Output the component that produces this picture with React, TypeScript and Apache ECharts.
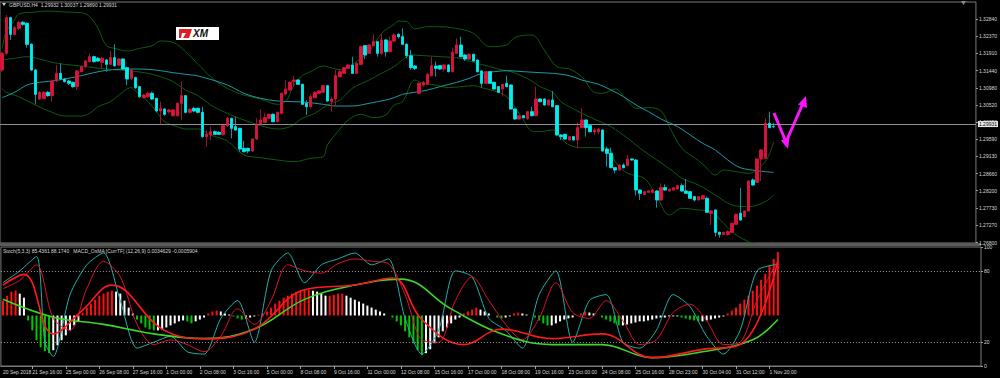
import React, { useEffect, useRef } from "react";
import * as echarts from "echarts";

const TITLE = "GBPUSD,H4  1.29932 1.30037 1.29890 1.29931";
const SUB_TITLE = "Stoch(5,3,3) 85.4361 88.1740   MACD_OsMA [CurrTF] (12,26,9) 0.0034629 -0.0005904";
const CURRENT_PRICE = 1.29931;
const SLOTS = 234;

// [open, close, low, high]
const candles: number[][] = [
  [1.3146, 1.3191, 1.31415, 1.31955],
  [1.3191, 1.32873, 1.31865, 1.32945],
  [1.32873, 1.32423, 1.3227, 1.329],
  [1.32423, 1.32603, 1.32387, 1.32657],
  [1.32585, 1.32747, 1.3254, 1.32783],
  [1.32747, 1.32693, 1.32657, 1.32783],
  [1.3272, 1.32153, 1.32063, 1.32747],
  [1.32153, 1.3146, 1.31433, 1.3218],
  [1.3146, 1.30803, 1.30533, 1.31487],
  [1.30677, 1.30857, 1.3065, 1.30893],
  [1.30695, 1.30857, 1.30659, 1.30893],
  [1.30857, 1.30767, 1.3074, 1.30893],
  [1.30767, 1.31163, 1.30605, 1.3119],
  [1.31163, 1.3137, 1.31145, 1.31595],
  [1.3137, 1.31217, 1.3119, 1.3164],
  [1.31217, 1.31145, 1.31127, 1.31235],
  [1.31163, 1.311, 1.31055, 1.3119],
  [1.31127, 1.3101, 1.30983, 1.31145],
  [1.3101, 1.31433, 1.3092, 1.3146],
  [1.31415, 1.3155, 1.31397, 1.31577],
  [1.3155, 1.31703, 1.31523, 1.3173],
  [1.31685, 1.3182, 1.31667, 1.3191],
  [1.3182, 1.31685, 1.31667, 1.31847],
  [1.31775, 1.31703, 1.31685, 1.31811],
  [1.31667, 1.31775, 1.31505, 1.3182],
  [1.3173, 1.31613, 1.31415, 1.31757],
  [1.31613, 1.31793, 1.31595, 1.31973],
  [1.31793, 1.31577, 1.3155, 1.32153],
  [1.31595, 1.31757, 1.31568, 1.31775],
  [1.31757, 1.31487, 1.3146, 1.31775],
  [1.31523, 1.31217, 1.31055, 1.3155],
  [1.31235, 1.3146, 1.3119, 1.31505],
  [1.31253, 1.30983, 1.30947, 1.3128],
  [1.3101, 1.3074, 1.30713, 1.31028],
  [1.30713, 1.30785, 1.30695, 1.30821],
  [1.3074, 1.3083, 1.30713, 1.30857],
  [1.3083, 1.30677, 1.3065, 1.30875],
  [1.30695, 1.30353, 1.30317, 1.30713],
  [1.30353, 1.30425, 1.30005, 1.30605],
  [1.30407, 1.30263, 1.30227, 1.30425],
  [1.30335, 1.3038, 1.3029, 1.30407],
  [1.30227, 1.3038, 1.302, 1.30407],
  [1.30227, 1.3056, 1.302, 1.30587],
  [1.3056, 1.30767, 1.3011, 1.31145],
  [1.30767, 1.30317, 1.3029, 1.30785],
  [1.30317, 1.30398, 1.3029, 1.30425],
  [1.30425, 1.30353, 1.30317, 1.3047],
  [1.30425, 1.30317, 1.3029, 1.30443],
  [1.30317, 1.2966, 1.29633, 1.3047],
  [1.2966, 1.29723, 1.2939, 1.2984],
  [1.29705, 1.29795, 1.2957, 1.2993],
  [1.29795, 1.29723, 1.29705, 1.29831],
  [1.29777, 1.29723, 1.29705, 1.29813],
  [1.29723, 1.29957, 1.29687, 1.29993],
  [1.29957, 1.30155, 1.2993, 1.30191],
  [1.30155, 1.29885, 1.29615, 1.30173],
  [1.2993, 1.2984, 1.29813, 1.302],
  [1.29885, 1.29327, 1.29255, 1.29903],
  [1.29345, 1.29255, 1.29237, 1.29543],
  [1.29345, 1.29273, 1.2921, 1.29363],
  [1.29273, 1.29597, 1.29255, 1.29615],
  [1.29597, 1.29993, 1.2957, 1.30155],
  [1.29993, 1.3011, 1.29975, 1.30407],
  [1.30047, 1.30173, 1.3002, 1.3029],
  [1.30155, 1.30263, 1.30137, 1.3029],
  [1.30263, 1.30065, 1.30047, 1.3029],
  [1.30065, 1.30317, 1.30047, 1.30335],
  [1.3029, 1.3083, 1.30263, 1.30857],
  [1.30812, 1.30947, 1.30785, 1.3119],
  [1.3092, 1.31127, 1.30893, 1.31163],
  [1.31145, 1.3119, 1.3101, 1.31307],
  [1.3119, 1.31073, 1.31055, 1.31217],
  [1.31073, 1.30533, 1.30515, 1.31091],
  [1.3056, 1.3047, 1.30245, 1.3065],
  [1.3047, 1.3074, 1.30425, 1.30803],
  [1.30713, 1.30857, 1.30695, 1.30893],
  [1.3083, 1.30893, 1.30803, 1.3092],
  [1.30857, 1.31037, 1.30839, 1.31055],
  [1.31037, 1.30623, 1.30605, 1.31055],
  [1.30605, 1.30677, 1.30335, 1.3074],
  [1.30677, 1.31307, 1.3047, 1.3146],
  [1.3128, 1.31415, 1.31253, 1.3146],
  [1.3137, 1.31523, 1.31352, 1.3155],
  [1.31505, 1.31595, 1.31487, 1.31613],
  [1.31595, 1.3137, 1.31352, 1.3182],
  [1.3137, 1.3164, 1.31352, 1.31667],
  [1.31613, 1.3209, 1.31595, 1.32117],
  [1.32117, 1.31865, 1.31757, 1.32135],
  [1.3191, 1.32135, 1.31892, 1.32153],
  [1.32117, 1.32225, 1.32099, 1.32423],
  [1.32225, 1.3191, 1.3182, 1.32243],
  [1.3191, 1.3227, 1.31865, 1.3245],
  [1.3227, 1.31955, 1.3182, 1.32297],
  [1.31955, 1.32243, 1.31937, 1.3236],
  [1.32243, 1.32405, 1.32207, 1.3245],
  [1.32423, 1.3236, 1.32315, 1.3245],
  [1.3236, 1.32153, 1.32135, 1.32585],
  [1.32153, 1.31847, 1.31775, 1.3218],
  [1.31847, 1.31523, 1.3146, 1.32],
  [1.31568, 1.31505, 1.3146, 1.31595],
  [1.3083, 1.311, 1.30803, 1.31127],
  [1.31055, 1.31127, 1.3101, 1.31163],
  [1.31073, 1.31343, 1.31055, 1.3137],
  [1.31307, 1.31577, 1.31289, 1.3182],
  [1.31568, 1.31505, 1.3128, 1.31685],
  [1.31577, 1.31487, 1.3146, 1.31595],
  [1.31487, 1.31595, 1.31415, 1.31613],
  [1.31595, 1.31415, 1.31397, 1.31613],
  [1.31415, 1.31937, 1.31397, 1.32063],
  [1.3191, 1.32135, 1.31892, 1.32315],
  [1.32135, 1.3182, 1.31802, 1.3236],
  [1.31865, 1.31757, 1.31703, 1.31883],
  [1.31757, 1.31883, 1.31739, 1.3191],
  [1.31883, 1.31703, 1.31685, 1.31901],
  [1.3173, 1.31415, 1.31397, 1.31748],
  [1.31433, 1.311, 1.30983, 1.31451],
  [1.311, 1.31415, 1.31082, 1.31433],
  [1.31415, 1.311, 1.31082, 1.31433],
  [1.31127, 1.30947, 1.30929, 1.31145],
  [1.3101, 1.30857, 1.30839, 1.31028],
  [1.30947, 1.31073, 1.3074, 1.31091],
  [1.311, 1.3101, 1.30992, 1.31307],
  [1.31055, 1.30407, 1.30389, 1.31073],
  [1.30407, 1.30137, 1.30119, 1.30425],
  [1.30137, 1.30227, 1.30119, 1.30245],
  [1.30227, 1.30173, 1.30155, 1.30245],
  [1.30155, 1.30335, 1.3011, 1.30353],
  [1.30335, 1.30227, 1.30209, 1.3047],
  [1.30227, 1.30677, 1.30209, 1.3101],
  [1.30677, 1.30605, 1.30587, 1.30695],
  [1.30677, 1.30515, 1.30497, 1.30695],
  [1.30515, 1.3065, 1.30497, 1.30668],
  [1.3065, 1.3047, 1.30452, 1.30893],
  [1.30497, 1.29705, 1.29687, 1.30515],
  [1.29705, 1.2966, 1.2957, 1.29723],
  [1.29723, 1.29597, 1.29579, 1.29741],
  [1.2957, 1.2966, 1.29552, 1.29678],
  [1.2966, 1.2957, 1.29552, 1.29678],
  [1.2957, 1.29903, 1.29345, 1.30047],
  [1.29903, 1.3011, 1.29885, 1.30425],
  [1.3011, 1.29903, 1.2966, 1.30128],
  [1.29957, 1.29795, 1.29777, 1.29975],
  [1.29795, 1.2984, 1.29705, 1.29903],
  [1.29795, 1.29867, 1.29723, 1.29885],
  [1.2984, 1.29273, 1.29255, 1.29858],
  [1.29327, 1.2921, 1.2885, 1.2939],
  [1.2921, 1.28823, 1.28805, 1.29363],
  [1.28823, 1.2876, 1.2867, 1.28841],
  [1.2876, 1.28895, 1.28742, 1.28913],
  [1.28895, 1.28823, 1.28805, 1.2894],
  [1.28877, 1.29057, 1.28859, 1.29165],
  [1.29057, 1.2903, 1.29012, 1.29075],
  [1.2903, 1.2822, 1.28067, 1.29048],
  [1.2822, 1.2813, 1.2795, 1.28238],
  [1.28103, 1.28175, 1.28085, 1.28193],
  [1.28157, 1.28193, 1.2813, 1.2822],
  [1.28157, 1.2822, 1.2813, 1.28247],
  [1.28193, 1.2795, 1.27743, 1.2822],
  [1.2795, 1.28283, 1.27932, 1.284],
  [1.28283, 1.2822, 1.28202, 1.28373],
  [1.28193, 1.28238, 1.28175, 1.28265],
  [1.2822, 1.28283, 1.28202, 1.28301],
  [1.28247, 1.28337, 1.28229, 1.28355],
  [1.28337, 1.28193, 1.28175, 1.284],
  [1.28193, 1.2813, 1.28112, 1.28517],
  [1.28175, 1.27995, 1.27977, 1.28193],
  [1.2804, 1.2795, 1.27905, 1.28058],
  [1.2795, 1.2804, 1.27932, 1.28058],
  [1.27977, 1.28067, 1.27959, 1.28085],
  [1.27995, 1.27617, 1.27599, 1.2804],
  [1.2759, 1.27653, 1.27275, 1.2768],
  [1.2768, 1.27077, 1.2696, 1.27698],
  [1.27077, 1.27023, 1.26933, 1.27095],
  [1.27023, 1.27077, 1.27005, 1.27095],
  [1.27023, 1.27095, 1.26987, 1.27131],
  [1.27077, 1.2732, 1.27059, 1.27338],
  [1.27293, 1.27563, 1.27275, 1.27581],
  [1.2759, 1.2741, 1.27392, 1.28283],
  [1.275, 1.27653, 1.27482, 1.27671],
  [1.27653, 1.28463, 1.27635, 1.28481],
  [1.2849, 1.28355, 1.28337, 1.28535],
  [1.28427, 1.29057, 1.28409, 1.29075],
  [1.29057, 1.293, 1.28463, 1.29327],
  [1.29075, 1.3002, 1.29057, 1.30155],
  [1.3002, 1.29903, 1.29885, 1.30335],
  [1.29932, 1.29931, 1.2989, 1.30037],
];

// Moving average and Bollinger bands read at sample bars: [bar, price]
const maLine: number[][] = [
  [0, 1.30713], [3, 1.30857], [6, 1.31055], [9, 1.31127], [12, 1.31163], [15, 1.31217], [19, 1.31307],
  [22, 1.31388], [25, 1.31451], [28, 1.31478], [31, 1.31487], [35, 1.31478], [38, 1.31442], [41, 1.31388],
  [44, 1.31343], [47, 1.31298], [54, 1.31055], [58, 1.3083], [62, 1.30695], [66, 1.30623], [70, 1.30605],
  [73, 1.30587], [77, 1.30533], [80, 1.30488], [84, 1.30488], [88, 1.3056], [92, 1.3065], [94, 1.30713],
  [96, 1.30803], [99, 1.30857], [102, 1.3092], [105, 1.3101], [109, 1.31127], [112, 1.31235], [115, 1.3137],
  [118, 1.31415], [121, 1.31442], [125, 1.31415], [129, 1.31388], [132, 1.3137], [136, 1.31307], [139, 1.3119],
  [143, 1.31073], [146, 1.3092], [149, 1.3074], [152, 1.30515], [155, 1.30335], [158, 1.30137], [162, 1.2993],
  [165, 1.29705], [168, 1.2948], [171, 1.293], [174, 1.2903], [177, 1.28823], [181, 1.28742], [183, 1.28715],
  [185, 1.28697],
];
const bbUpper: number[][] = [
  [0, 1.32045], [1, 1.32495], [3, 1.3281], [4, 1.32972], [8, 1.33026], [11, 1.33053], [15, 1.33026],
  [19, 1.33008], [21, 1.329], [23, 1.32585], [25, 1.32117], [27, 1.32045], [30, 1.31973], [33, 1.32045],
  [36, 1.32117], [38, 1.32243], [41, 1.32207], [44, 1.31955], [47, 1.31613], [50, 1.3128], [54, 1.30965],
  [58, 1.30785], [62, 1.30677], [66, 1.30533], [68, 1.30605], [70, 1.31055], [72, 1.31307], [74, 1.31415],
  [77, 1.31568], [80, 1.31487], [82, 1.3146], [84, 1.31613], [88, 1.31955], [91, 1.3245], [94, 1.32693],
  [95, 1.32783], [97, 1.32765], [99, 1.32567], [102, 1.3263], [105, 1.3263], [110, 1.32558], [113, 1.3245],
  [117, 1.3209], [121, 1.32135], [123, 1.32342], [127, 1.32405], [130, 1.32], [133, 1.3155], [136, 1.31487],
  [139, 1.3128], [140, 1.31127], [142, 1.30857], [144, 1.3083], [147, 1.30947], [150, 1.30623], [152, 1.30425],
  [155, 1.30443], [158, 1.30353], [160, 1.2993], [163, 1.29345], [167, 1.29012], [169, 1.28805], [171, 1.28625],
  [173, 1.2876], [176, 1.28715], [179, 1.2867], [183, 1.28985], [185, 1.29525],
];
const bbMiddle: number[][] = [
  [0, 1.3173], [3, 1.31775], [6, 1.3182], [9, 1.31757], [12, 1.31667], [15, 1.31613], [19, 1.31568],
  [22, 1.31523], [25, 1.31487], [28, 1.3146], [31, 1.31433], [35, 1.3137], [38, 1.3128], [41, 1.31145],
  [44, 1.3092], [47, 1.30767], [50, 1.30515], [54, 1.3029], [58, 1.3011], [62, 1.29957], [66, 1.29867],
  [69, 1.2993], [72, 1.30155], [75, 1.3029], [78, 1.30515], [81, 1.3065], [84, 1.30965], [88, 1.3119],
  [91, 1.3137], [94, 1.3155], [96, 1.3173], [98, 1.31865], [101, 1.31847], [105, 1.3182], [110, 1.31775],
  [113, 1.31667], [117, 1.3155], [120, 1.3146], [122, 1.31415], [125, 1.3128], [127, 1.31163], [129, 1.3101],
  [132, 1.30857], [134, 1.30605], [136, 1.3047], [139, 1.3029], [143, 1.30083], [146, 1.2993], [150, 1.29615],
  [153, 1.29345], [157, 1.2903], [161, 1.28715], [163, 1.28535], [167, 1.28355], [171, 1.28085], [175, 1.27815],
  [179, 1.2777], [183, 1.27905], [185, 1.28085],
];
const bbLower: number[][] = [
  [0, 1.30965], [1, 1.30857], [4, 1.3074], [8, 1.30515], [12, 1.30317], [15, 1.30218], [19, 1.30218],
  [21, 1.3029], [23, 1.3047], [26, 1.30605], [28, 1.30785], [31, 1.30983], [32, 1.30893], [35, 1.30605],
  [37, 1.30335], [39, 1.30065], [42, 1.2993], [44, 1.29867], [47, 1.29867], [50, 1.29705], [54, 1.29543],
  [58, 1.29165], [62, 1.29093], [66, 1.2903], [70, 1.28985], [74, 1.29075], [77, 1.2912], [78, 1.29435],
  [81, 1.29867], [83, 1.3011], [86, 1.30263], [89, 1.30173], [92, 1.30245], [94, 1.30515], [96, 1.30605],
  [99, 1.3119], [101, 1.311], [104, 1.31055], [107, 1.30983], [110, 1.3101], [113, 1.31037], [115, 1.30983],
  [118, 1.30893], [121, 1.3074], [125, 1.3011], [127, 1.29813], [129, 1.29795], [132, 1.2984], [134, 1.29615],
  [136, 1.29435], [139, 1.29363], [143, 1.29363], [146, 1.29273], [147, 1.28985], [150, 1.2867], [154, 1.28535],
  [157, 1.2804], [160, 1.27545], [163, 1.27725], [167, 1.2768], [170, 1.27635], [173, 1.2732], [176, 1.27005],
  [179, 1.26825], [181, 1.26735], [185, 1.2651],
];

const priceTicks = [1.3284, 1.3237, 1.3191, 1.3144, 1.3098, 1.3052, 1.3005, 1.2959, 1.2913, 1.2866, 1.282, 1.2773, 1.2727, 1.268];

const timeLabels: [number, string][] = [
  [0, "20 Sep 2018"], [7, "21 Sep 16:00"], [15, "25 Sep 00:00"], [23, "26 Sep 08:00"], [31, "27 Sep 16:00"],
  [39, "1 Oct 00:00"], [47, "2 Oct 08:00"], [55, "3 Oct 16:00"], [63, "5 Oct 00:00"], [71, "8 Oct 08:00"],
  [79, "9 Oct 16:00"], [87, "11 Oct 00:00"], [95, "12 Oct 08:00"], [103, "15 Oct 16:00"], [111, "17 Oct 00:00"],
  [119, "18 Oct 08:00"], [127, "19 Oct 16:00"], [135, "23 Oct 00:00"], [143, "24 Oct 08:00"], [151, "25 Oct 16:00"],
  [159, "28 Oct 23:00"], [167, "30 Oct 04:00"], [175, "31 Oct 12:00"], [183, "1 Nov 20:00"],
];

// Lower window: Stochastic (0..100) and MACD OsMA (units of 1e-5)
const stochMain: number[][] = [
  [0, 70], [4, 80], [8, 92], [10, 20], [12, 8], [16, 60], [20, 85], [24, 95], [28, 55], [32, 15], [36, 20],
  [40, 25], [44, 12], [48, 10], [52, 40], [56, 55], [60, 20], [64, 80], [68, 95], [72, 70], [76, 85], [80, 90],
  [84, 95], [88, 85], [92, 90], [96, 40], [100, 10], [104, 30], [108, 80], [112, 75], [116, 40], [120, 30],
  [124, 15], [128, 60], [132, 80], [136, 20], [140, 55], [144, 60], [148, 20], [152, 15], [156, 30], [160, 60],
  [164, 50], [168, 25], [172, 10], [176, 30], [180, 80], [185, 85.4361],
];
const stochSignal: number[][] = [
  [0, 65], [4, 72], [8, 85], [12, 40], [16, 30], [20, 65], [24, 88], [28, 75], [32, 35], [36, 18], [40, 22],
  [44, 18], [48, 12], [52, 25], [56, 48], [60, 35], [64, 55], [68, 85], [72, 80], [76, 78], [80, 86], [84, 90],
  [88, 88], [92, 86], [96, 60], [100, 22], [104, 20], [108, 55], [112, 75], [116, 55], [120, 35], [124, 22],
  [128, 40], [132, 70], [136, 45], [140, 40], [144, 55], [148, 38], [152, 18], [156, 22], [160, 45], [164, 52],
  [168, 38], [172, 18], [176, 20], [180, 55], [185, 88.174],
];
const macdGreen: number[][] = [
  [0, 56], [12, 41], [24, 35], [36, 27], [48, 23], [60, 31], [72, 56], [84, 68], [95, 73], [107, 48],
  [119, 27], [131, 18], [143, 18], [155, 7], [167, 12], [179, 22], [185, 39],
];
const macdRed: number[][] = [
  [0, 68], [5, 77], [12, 27], [19, 47], [26, 68], [38, 31], [48, 23], [60, 31], [72, 64], [84, 68], [93, 74],
  [100, 39], [110, 18], [119, 31], [131, 23], [143, 27], [155, 7], [167, 14], [176, 18], [185, 88],
];
const osma: number[] = [
  81, 108, 130, 135, 119, 97,
  -27, -81, -135, -173, -194, -205, -189,
  -162, -135, -108, -81, -54, -32,
  16, 43, 65, 86, 108, 119, 130, 135, 130, 119,
  81, 43, 11, -22, -43, -65, -76, -81, -81, -76, -65, -54, -43, -32,
  -27, -32, -43, -32, -22, -11, 11, 22, 27, 22, 11, 5, -5,
  -16, -22, -16, -11, -5, 5, 11,
  22, 43, 65, 81, 97, 108, 119, 130, 135, 140, 140, 135, 130, 119, 108, 108, 113, 119, 119, 108, 97, 86, 76, 65, 54, 43, 32, 22,
  11, 0, -11, -32, -54, -86,
  -119, -151, -189, -216, -205, -184, -151, -119, -86,
  -65, -43, -22, -11, 11, 22, 32, 43, 32, 22,
  11, 0, -11, -16, -11, -5, 11, 16, 11, 5, 0,
  -11, -27, -43, -54, -54, -43, -32, -22, -16,
  -11, 0, 11, 22, 16, 11, 0, -11, -22, -32,
  -43, -54, -54, -49, -43, -38, -32, -32, -27, -22, -16, -11, -11, -5, -5,
  -5, -11, -16, -22, -27, -32, -32, -27, -22, -16, -11, -5,
  11, 27, 43, 65, 86, 108, 135, 162, 194, 227, 270, 308, 346,
];

const FONT = "Liberation Sans";
const TXT = "#d8d8d8";
const GRID_C = "#7a7a7a";

export default function App() {
  const ref = useRef<HTMLDivElement>(null);
  useEffect(() => {
    const chart = echarts.init(ref.current!, null, { renderer: "svg" });
    const cats = Array.from({ length: SLOTS }, (_, i) => String(i));
    const labelMap: Record<number, string> = {};
    timeLabels.forEach(([i, s]) => (labelMap[i] = s));
    const bodies = candles.map(([o, c]) => [o, c, Math.min(o, c), Math.max(o, c)]);
    const osmaColors = osma.map((v, i) => {
      const prev = i > 0 ? osma[i - 1] : v;
      if (v >= 0 && v >= prev) return "#ff1010";
      if (v < 0 && v < prev) return "#00c800";
      return "#ffffff";
    });
    const lineS = (data: number[][], color: string, width: number, xi: number, yi: number, smooth = 0.3, z = 3) => ({
      type: "line",
      xAxisIndex: xi,
      yAxisIndex: yi,
      data,
      smooth,
      symbol: "none",
      silent: true,
      z,
      lineStyle: { color, width },
    });
    const option: any = {
      animation: false,
      backgroundColor: "#000000",
      grid: [
        { left: 0, right: 19, top: 2, height: 241, show: true, borderColor: GRID_C, borderWidth: 1, backgroundColor: "transparent" },
        { left: 0, right: 19, top: 247, height: 119, show: true, borderColor: GRID_C, borderWidth: 1, backgroundColor: "transparent" },
      ],
      xAxis: [
        { type: "category", gridIndex: 0, data: cats, boundaryGap: true, axisLine: { show: false }, axisTick: { show: false }, axisLabel: { show: false }, splitLine: { show: false } },
        {
          type: "category", gridIndex: 1, data: cats, boundaryGap: true,
          axisLine: { show: true, lineStyle: { color: GRID_C } },
          axisTick: { show: true, alignWithLabel: true, length: 3, interval: (i: number) => labelMap[i] !== undefined && i > 0, lineStyle: { color: "#a0a0a0" } },
          axisLabel: {
            show: true, interval: (i: number) => labelMap[i] !== undefined, formatter: (_v: string, i: number) => labelMap[i] || "",
            color: TXT, fontSize: 5, fontFamily: FONT, align: "left", margin: 3,
          },
          splitLine: { show: false },
        },
      ],
      yAxis: [
        {
          type: "value", gridIndex: 0, position: "right", min: 1.26789, max: 1.33296, scale: true,
          axisLine: { show: false },
          axisTick: { show: true, customValues: priceTicks, length: 2, lineStyle: { color: "#a0a0a0" } },
          axisLabel: { show: true, customValues: priceTicks, formatter: (v: number) => v.toFixed(5), color: TXT, fontSize: 5, fontFamily: FONT, margin: 3 },
          splitLine: { show: false },
        },
        {
          type: "value", gridIndex: 1, position: "right", min: 0, max: 100,
          axisLine: { show: false },
          axisTick: { show: true, customValues: [0, 20, 80, 100], length: 2, lineStyle: { color: "#a0a0a0" } },
          axisLabel: { show: true, customValues: [0, 20, 80, 100], color: TXT, fontSize: 5, fontFamily: FONT, margin: 3 },
          splitLine: { show: false },
        },
        { type: "value", gridIndex: 1, min: -275, max: 373, show: false, splitLine: { show: false } },
      ],
      series: [
        lineS(bbUpper, "#0f5a12", 1, 0, 0, 0.35, 2),
        lineS(bbMiddle, "#0f5a12", 1, 0, 0, 0.35, 2),
        lineS(bbLower, "#0f5a12", 1, 0, 0, 0.35, 2),
        lineS(maLine, "#1c9aa6", 1, 0, 0, 0.35, 2),
        {
          type: "candlestick", xAxisIndex: 0, yAxisIndex: 0, data: candles, barWidth: 3, silent: true, z: 4,
          itemStyle: { color: "#a01030", color0: "#009aa0", borderColor: "#a01030", borderColor0: "#009aa0", borderWidth: 1 },
          markLine: {
            silent: true, symbol: "none",
            data: [{ yAxis: CURRENT_PRICE }],
            lineStyle: { color: "#8a8f98", width: 1, type: "solid" },
            label: { show: true, position: "end", formatter: CURRENT_PRICE.toFixed(5), color: "#000", backgroundColor: "#e8e8e8", fontSize: 5, fontFamily: FONT, padding: [1, 1, 0, 1], distance: 2 },
          },
        },
        {
          type: "candlestick", xAxisIndex: 0, yAxisIndex: 0, data: bodies, barWidth: 3, silent: true, z: 5,
          itemStyle: { color: "#dc143c", color0: "#00f0f0", borderColor: "#dc143c", borderColor0: "#00f0f0", borderWidth: 0.5 },
        },
        {
          type: "bar", xAxisIndex: 1, yAxisIndex: 2, data: osma.map((v, i) => ({ value: v, itemStyle: { color: osmaColors[i] } })),
          barWidth: 2, silent: true, z: 2,
        },
        {
          ...lineS(stochMain, "#20b2aa", 1, 1, 1, 0.25, 3),
          markLine: {
            silent: true, symbol: "none", label: { show: false },
            lineStyle: { color: "#9a9a9a", width: 1, type: [1, 2] },
            data: [{ yAxis: 80 }, { yAxis: 20 }],
          },
        },
        lineS(stochSignal, "#e01030", 1, 1, 1, 0.3, 3),
        lineS(macdGreen, "#3ad62a", 1.6, 1, 1, 0.4, 4),
        lineS(macdRed, "#ff1a1a", 1.6, 1, 1, 0.4, 4),
      ],
      graphic: [
        { type: "polygon", shape: { points: [[2, 3], [6, 3], [4, 6]] }, style: { fill: "#d0d0d0" } },
        { type: "text", x: 9, y: 5, style: { text: TITLE, fill: TXT, font: `5px ${FONT}`, verticalAlign: "middle" } },
        { type: "polygon", shape: { points: [[961, 1], [966, 1], [963.5, 5]] }, style: { fill: "#8a8a8a" } },
        { type: "rect", shape: { x: 0, y: 243, width: 981, height: 3 }, style: { fill: "#5a5a5a" } },
        { type: "text", x: 3, y: 251, style: { text: SUB_TITLE, fill: TXT, font: `5px ${FONT}`, verticalAlign: "middle" } },
        // XM logo
        { type: "rect", shape: { x: 176, y: 27, width: 43, height: 13 }, style: { fill: "#ffffff" } },
        { type: "polygon", shape: { points: [[179, 29], [192, 29], [189, 38], [183, 38], [186, 33], [182, 33], [181, 38], [179, 38]] }, style: { fill: "#e01e26" } },
        { type: "text", x: 193, y: 33.5, style: { text: "XM", fill: "#111", font: `italic bold 10px ${FONT}`, verticalAlign: "middle" } },
        // magenta arrow
        { type: "polyline", shape: { points: [[774, 113], [786, 142], [804, 101]] }, style: { stroke: "#ff14ff", lineWidth: 3, fill: "none" } },
        { type: "polygon", shape: { points: [[788, 149], [789.5, 137], [781, 140.5]] }, style: { fill: "#ff14ff" } },
        { type: "polygon", shape: { points: [[806, 96], [807, 108], [798, 104.5]] }, style: { fill: "#ff14ff" } },
      ],
    };
    chart.setOption(option);
    return () => chart.dispose();
  }, []);
  return <div ref={ref} style={{ position: "fixed", left: 0, top: 0, width: 1000, height: 378, background: "#000" }} />;
}
